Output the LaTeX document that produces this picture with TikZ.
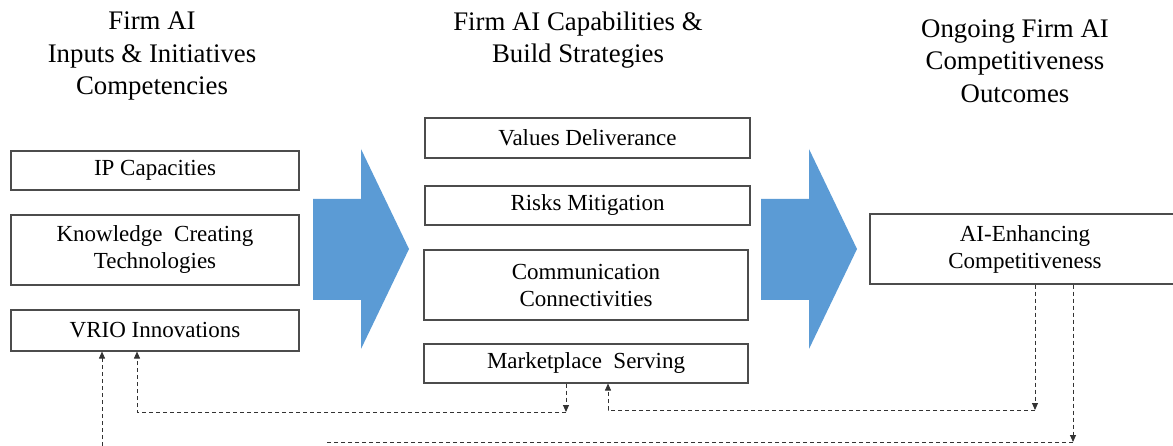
\documentclass[tikz,border=0pt]{standalone}
\usepackage{fontspec}
\setmainfont{Liberation Serif}
\usetikzlibrary{arrows.meta}
\definecolor{flowblue}{RGB}{91,155,213}
\definecolor{boxgray}{rgb}{0.3,0.3,0.3}

\tikzset{
  head/.style={align=center, font=\fontsize{26.8}{32.5}\selectfont},
  itembox/.style={draw=boxgray, line width=1.1pt, align=center, inner sep=0pt,
                  font=\fontsize{23}{27}\selectfont},
  fb/.style={draw=black!80, line width=0.9pt, dash pattern=on 4pt off 3pt},
  fbtip/.style={-{Triangle[length=7pt,width=6pt]}}
}

\begin{document}
\begin{tikzpicture}[x=1pt, y=-1pt]
\useasboundingbox (0,0) rectangle (1173,446);

% column headings
\node[head] (h1) at (152,56) {Firm AI\\Inputs \& Initiatives\\Competencies};
\node[head] (h2) at (578,40) {Firm AI Capabilities \&\\Build Strategies};
\node[head] (h3) at (1015,61) {Ongoing Firm AI\\Competitiveness\\Outcomes};

% inputs
\node[itembox, minimum width=288pt, minimum height=39pt] (ip)   at (155,170.5) {IP Capacities};
\node[itembox, minimum width=288pt, minimum height=70pt] (know) at (155,250) {Knowledge~~Creating\\Technologies};
\node[itembox, minimum width=288pt, minimum height=41pt] (vrio) at (155,330.5) {VRIO Innovations};

% capabilities
\node[itembox, minimum width=325pt, minimum height=40pt] (vals) at (587.5,138) {Values Deliverance};
\node[itembox, minimum width=325pt, minimum height=39pt] (risk) at (587.5,205.5) {Risks Mitigation};
\node[itembox, minimum width=324pt, minimum height=70pt] (comm) at (586,285) {Communication\\Connectivities};
\node[itembox, minimum width=324pt, minimum height=39pt] (mkt)  at (586,363.5) {Marketplace~~Serving};

% outcome
\begin{scope}
  \clip (0,0) rectangle (1173,446);
  \node[itembox, minimum width=310pt, minimum height=70pt] (aie) at (1025,249) {AI-Enhancing\\Competitiveness};
\end{scope}

% block arrows
\foreach \dx in {0,448} {
  \fill[flowblue] (313+\dx,199) -- (361+\dx,199) -- (361+\dx,149) -- (409+\dx,249)
    -- (361+\dx,349) -- (361+\dx,300) -- (313+\dx,300) -- cycle;
}

% feedback loops
\coordinate (fbA) at (1035,410);
\coordinate (fbB) at (566,412);
\coordinate (fbC) at (1073,442);
\coordinate (fbD) at (327,442);
\coordinate (fbE) at (102,446);

\draw[fb, fbtip] ([xshift=10pt]aie.south) -- (fbA);
\draw[fb, fbtip] (fbA) -| ([xshift=22pt]mkt.south);
\draw[fb, fbtip] ([xshift=-20pt]mkt.south) -- (fbB);
\draw[fb, fbtip] (fbB) -| ([xshift=-18pt]vrio.south);
\draw[fb, fbtip] ([xshift=48pt]aie.south) -- (fbC);
\draw[fb] (fbC) -- (fbD);
\draw[fb, fbtip] (fbE) -- ([xshift=-53pt]vrio.south);

\end{tikzpicture}
\end{document}
